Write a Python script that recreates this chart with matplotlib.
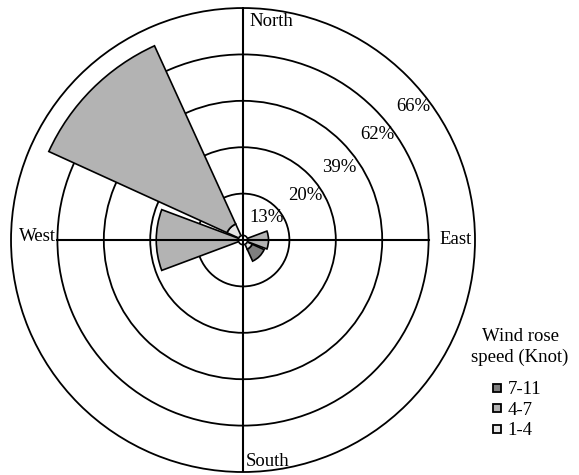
import numpy as np
import matplotlib.pyplot as plt
from matplotlib.lines import Line2D

plt.rcParams['font.family'] = ['Liberation Serif', 'DejaVu Serif']

# wind directions (degrees from north, clockwise)
directions = ['N', 'NE', 'E', 'SE', 'S', 'SW', 'W', 'NW']
dir_angles = [0, 45, 90, 135, 180, 225, 270, 315]

# stacked bar lengths, in units of the drawn rings
speed_1_4 = [0, 0, 0, 0.12, 0, 0, 0, 0.28]
speed_4_7 = [0, 0, 0.45, 0, 0, 0, 1.77, 4.22]
speed_7_11 = [0, 0, 0, 0.28, 0, 0, 0, 0]

speed_labels = ['7-11', '4-7', '1-4']
speed_colors = ['#7f7f7f', '#b3b3b3', '#e6e6e6']

ring_pos = [1, 2, 3, 4, 5]
ring_labels = ['13%', '20%', '39%', '62%', '66%']

hole = 0.1
bar_width = np.deg2rad(41)

fig = plt.figure(figsize=(5.79, 4.75), dpi=100)
ax = fig.add_axes([0.019, 0.0063, 0.8014, 0.9768], projection='polar')
ax.set_theta_zero_location('N')
ax.set_theta_direction(-1)
ax.set_ylim(0, 5)

theta = np.deg2rad(dir_angles)
bottom = np.full(len(directions), hole)
for vals, col in [(speed_1_4, speed_colors[2]), (speed_4_7, speed_colors[1]),
                  (speed_7_11, speed_colors[0])]:
    vals = np.array(vals)
    m = vals > 0
    ax.bar(theta[m], vals[m], width=bar_width, bottom=bottom[m],
           color=col, edgecolor='black', linewidth=1.2, zorder=2)
    bottom = bottom + vals

# rings
ax.set_rgrids([1, 2, 3, 4], labels=[])
ax.set_thetagrids([])
ax.yaxis.grid(True, color='black', linewidth=1.3, linestyle='-')
ax.set_axisbelow(True)
ax.spines['polar'].set_linewidth(1.3)

# centre hole
t = np.linspace(0, 2 * np.pi, 100)
ax.fill(t, np.full_like(t, hole), color='white', zorder=3)
ax.plot(t, np.full_like(t, hole), color='black', lw=1.2, zorder=4)

# axis cross
for a in [0, np.pi]:
    ax.plot([a, a], [0, 5], color='black', lw=1.5, zorder=5)
for a in [np.pi / 2, 3 * np.pi / 2]:
    ax.plot([a, a], [0, 4], color='black', lw=1.5, zorder=5)

# ring labels
lab_ang = [46, 54, 53, 52, 52]
lab_r = [0.71, 1.65, 2.61, 3.68, 4.67]
fs = 13.5
for a, r, s in zip(lab_ang, lab_r, ring_labels):
    ax.text(np.deg2rad(a), r, s, fontsize=fs, ha='center', va='center', zorder=6)

# compass labels
fig.text(249 / 579, 1 - 22 / 475, 'North', fontsize=fs, ha='left', va='center')
fig.text(246 / 579, 1 - 461 / 475, 'South', fontsize=fs, ha='left', va='center')
fig.text(37 / 579, 1 - 237 / 475, 'West', fontsize=fs, ha='center', va='center')
fig.text(456 / 579, 1 - 240 / 475, 'East', fontsize=fs, ha='center', va='center')

# legend
fig.text(520 / 579, 1 - 347 / 475, 'Wind rose\nspeed (Knot)', fontsize=fs,
         ha='center', va='center', linespacing=1.25)
handles = [Line2D([], [], marker='s', ls='', markersize=6, markerfacecolor=c,
                  markeredgecolor='black', markeredgewidth=1.3) for c in speed_colors]
fig.legend(handles, speed_labels, loc='upper left',
           bbox_to_anchor=(491 / 579, 1 - 381 / 475),
           frameon=False, fontsize=fs, borderaxespad=0,
           handlelength=0.6, handletextpad=0.29, labelspacing=0.18,
           borderpad=0)

fig.savefig('out.png', dpi=100)
